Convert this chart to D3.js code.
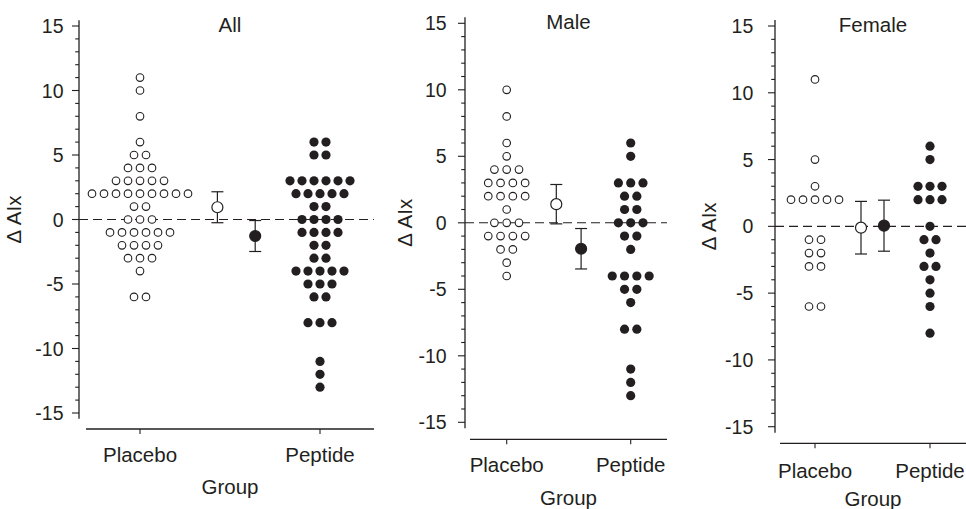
<!DOCTYPE html>
<html>
<head>
<meta charset="utf-8">
<script src="https://cdn.jsdelivr.net/npm/d3@7"></script>
<style>
  body { margin: 0; background: #fff; }
  svg { display: block; }
  text { font-family: "Liberation Sans", Arial, sans-serif; fill: #231f20; }
</style>
</head>
<body>
<div id="chart"></div>
<script>
const W = 966, H = 509;
const INK = "#231f20";

const groups = ["Placebo", "Peptide"];
const yTicks = [-15, -10, -5, 0, 5, 10, 15];

// individual delta AIx values
const allPlacebo = [11, 10, 8, 6, 5, 5, 4, 4, 4, 3, 3, 3, 3, 3,
  2, 2, 2, 2, 2, 2, 2, 2, 2, 1, 1, 0, 0, 0,
  -1, -1, -1, -1, -1, -1, -2, -2, -2, -2, -3, -3, -3, -4, -6, -6];
const allPeptide = [6, 6, 5, 5, 3, 3, 3, 3, 3, 3, 2, 2, 2, 2, 2, 1, 1,
  0, 0, 0, 0, -1, -1, -1, -1, -2, -2, -3, -3,
  -4, -4, -4, -4, -4, -5, -5, -5, -6, -6, -8, -8, -8, -11, -12, -13];
const allMean = [0.95, -1.28];
const allSem = [1.2, 1.2];

const malePlacebo = [10, 8, 6, 5, 4, 4, 4, 3, 3, 3, 3, 2, 2, 2, 2, 1,
  0, 0, 0, -1, -1, -1, -1, -2, -2, -3, -4];
const malePeptide = [6, 5, 3, 3, 3, 2, 2, 1, 1, 0, 0, 0, -1, -1, -2,
  -4, -4, -4, -4, -5, -5, -6, -8, -8, -11, -12, -13];
const maleMean = [1.4, -1.95];
const maleSem = [1.48, 1.52];

const femalePlacebo = [11, 5, 3, 2, 2, 2, 2, 2, -1, -1, -2, -2, -3, -3, -6, -6];
const femalePeptide = [6, 5, 3, 3, 3, 2, 2, 2, 0, -1, -1, -2, -3, -3, -4, -5, -6, -8];
const femaleMean = [-0.1, 0.05];
const femaleSem = [1.97, 1.91];

// layout of each panel (pixels)
const panels = [
  { title: "All", data: [allPlacebo, allPeptide], mean: allMean, sem: allSem,
    axisX: 79, yRange: [413, 26], xAxisY: 429, xLine: [86, 374], xGroups: [140, 320],
    meanPos: [0.43, 0.64], gap: 12, titleY: 32, tickLabelDx: 15.5, yLabelX: 14,
    catY: 462, groupY: 494 },
  { title: "Male", data: [malePlacebo, malePeptide], mean: maleMean, sem: maleSem,
    axisX: 465, yRange: [422.3, 23.3], xAxisY: 439.3, xLine: [470, 667], xGroups: [506.7, 630.7],
    meanPos: [0.4, 0.6], gap: 12.3, titleY: 28.5, tickLabelDx: 18.3, yLabelX: 405,
    catY: 472, groupY: 505 },
  { title: "Female", data: [femalePlacebo, femalePeptide], mean: femaleMean, sem: femaleSem,
    axisX: 775, yRange: [426.7, 26], xAxisY: 443.3, xLine: [780, 966], xGroups: [815, 930],
    meanPos: [0.4, 0.6], gap: 12, titleY: 32.3, tickLabelDx: 21.7, yLabelX: 709,
    catY: 478, groupY: 506 }
];

const svg = d3.select("#chart").append("svg")
  .attr("width", W)
  .attr("height", H);

panels.forEach(function(p) {
  const g = svg.append("g");
  const y = d3.scaleLinear().domain([-15, 15]).range(p.yRange);
  const x = d3.scalePoint().domain(groups).range(p.xGroups);
  const xm = d3.scaleLinear().domain([0, 1]).range(p.xGroups);

  // y axis line + ticks
  g.append("line")
    .attr("x1", p.axisX).attr("x2", p.axisX)
    .attr("y1", y(15.45)).attr("y2", y(-15.45))
    .attr("stroke", INK).attr("stroke-width", 1.3);

  g.selectAll(".minor")
    .data(d3.range(-15, 16))
    .enter().append("line")
    .attr("x1", p.axisX)
    .attr("x2", function(d) { return p.axisX - (d % 5 === 0 ? 7 : 3.8); })
    .attr("y1", function(d) { return y(d); })
    .attr("y2", function(d) { return y(d); })
    .attr("stroke", INK).attr("stroke-width", 1.1);

  g.selectAll(".ylab")
    .data(yTicks)
    .enter().append("text")
    .attr("x", p.axisX - p.tickLabelDx)
    .attr("y", function(d) { return y(d); })
    .attr("dy", "0.36em")
    .style("text-anchor", "end")
    .style("font-size", "19.5px")
    .text(function(d) { return d; });

  // x axis line + ticks
  g.append("line")
    .attr("x1", p.xLine[0]).attr("x2", p.xLine[1])
    .attr("y1", p.xAxisY).attr("y2", p.xAxisY)
    .attr("stroke", INK).attr("stroke-width", 1.3);

  g.selectAll(".xt")
    .data(groups)
    .enter().append("line")
    .attr("x1", function(d) { return x(d); })
    .attr("x2", function(d) { return x(d); })
    .attr("y1", p.xAxisY).attr("y2", p.xAxisY + 5)
    .attr("stroke", INK).attr("stroke-width", 1.1);

  g.selectAll(".xlab")
    .data(groups)
    .enter().append("text")
    .attr("x", function(d) { return x(d); })
    .attr("y", p.catY)
    .style("text-anchor", "middle")
    .style("font-size", "20.5px")
    .text(function(d) { return d; });

  const midX = (p.xLine[0] + p.xLine[1]) / 2;
  g.append("text")
    .attr("x", midX).attr("y", p.groupY)
    .style("text-anchor", "middle")
    .style("font-size", "20.5px")
    .text("Group");

  g.append("text")
    .attr("x", midX).attr("y", p.titleY)
    .style("text-anchor", "middle")
    .style("font-size", "20.5px")
    .text(p.title);

  g.append("text")
    .attr("transform", "translate(" + p.yLabelX + "," + y(0) + ") rotate(-90)")
    .attr("dy", "0.35em")
    .style("text-anchor", "middle")
    .style("font-size", "20.5px")
    .text("\u0394 AIx");

  // zero reference
  g.append("line")
    .attr("x1", p.axisX).attr("x2", p.xLine[1])
    .attr("y1", y(0)).attr("y2", y(0))
    .attr("stroke", INK).attr("stroke-width", 1.1)
    .attr("stroke-dasharray", "9,5");

  // dot columns: equal values side by side, centred on the group
  groups.forEach(function(grp, gi) {
    const counts = d3.rollup(p.data[gi], function(v) { return v.length; }, function(d) { return d; });
    const dots = [];
    counts.forEach(function(n, val) {
      for (let i = 0; i < n; i++) dots.push({ v: val, off: (i - (n - 1) / 2) * p.gap });
    });
    g.selectAll(".dot" + gi)
      .data(dots)
      .enter().append("circle")
      .attr("cx", function(d) { return x(grp) + d.off; })
      .attr("cy", function(d) { return y(d.v); })
      .attr("r", gi === 0 ? 3.8 : 4.6)
      .attr("fill", gi === 0 ? "#fff" : INK)
      .attr("stroke", INK)
      .attr("stroke-width", gi === 0 ? 1.1 : 0);
  });

  // mean +/- SEM
  groups.forEach(function(grp, gi) {
    const cx = xm(p.meanPos[gi]);
    const lo = y(p.mean[gi] - p.sem[gi]);
    const hi = y(p.mean[gi] + p.sem[gi]);
    g.append("line")
      .attr("x1", cx).attr("x2", cx).attr("y1", lo).attr("y2", hi)
      .attr("stroke", INK).attr("stroke-width", 1.2);
    [lo, hi].forEach(function(yy) {
      g.append("line")
        .attr("x1", cx - 6).attr("x2", cx + 6).attr("y1", yy).attr("y2", yy)
        .attr("stroke", INK).attr("stroke-width", 1.2);
    });
    g.append("circle")
      .attr("cx", cx).attr("cy", y(p.mean[gi]))
      .attr("r", 5.5)
      .attr("fill", gi === 0 ? "#fff" : INK)
      .attr("stroke", INK).attr("stroke-width", 1.2);
  });
});
</script>
</body>
</html>
